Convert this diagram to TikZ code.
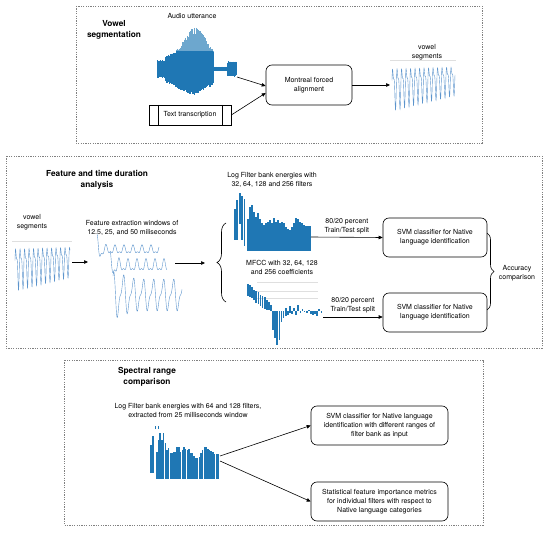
\documentclass[tikz,border=0pt]{standalone}
\usepackage{fontspec}
\setmainfont{TeX Gyre Heros}
\usetikzlibrary{arrows.meta,decorations.pathreplacing}
\definecolor{plotblue}{RGB}{31,119,180}
\definecolor{waveblue}{RGB}{92,148,204}
\newcommand{\vowelwave}[4]{%
  \draw[wave] plot[domain=0:#3,samples=400] ({#1+\x},{#2+(#4-0.12*\x)*(1-(sin(80*\x)+0.45*sin(160*\x+50))/1.35)});}

\begin{document}
\begin{tikzpicture}[x=1pt,y=-1pt,
    every node/.style={font=\fontsize{7}{9}\selectfont, align=center, inner sep=1pt},
    title/.style={font=\fontsize{8.3}{10.5}\selectfont\bfseries},
    section/.style={draw=gray, dash pattern=on 1.2pt off 1.2pt, line width=0.6pt},
    stage/.style={draw, rounded corners=6pt, line width=0.6pt, minimum height=39pt},
    textbox/.style={draw, line width=0.6pt, minimum width=82pt, minimum height=20pt,
      path picture={
        \draw ([xshift=9pt]path picture bounding box.north west) -- ([xshift=9pt]path picture bounding box.south west);
        \draw ([xshift=-9pt]path picture bounding box.north east) -- ([xshift=-9pt]path picture bounding box.south east);}},
    link/.style={-{Triangle[length=4pt,width=3.5pt]}, line width=0.6pt},
    wave/.style={waveblue, line width=0.4pt},
    rule/.style={gray!25, line width=0.4pt}]
  \useasboundingbox (0,0) rectangle (550,535);

  % vowel segmentation
  \draw[section] (76,6) rectangle (482,143);
  \node[title] (segtitle) at (114,30) {Vowel\\segmentation};
  \node (audiolabel) at (192,16) {Audio utterance};
  \foreach \x in {157,157.4,...,236}{
    \pgfmathsetmacro\u{((\x<165)*8+and(\x>=165,\x<213)*(12+26*exp(0-((\x-195)/15)^2))+and(\x>=213,\x<227)*2+(\x>=227)*7)*(0.9+0.2*rnd)}
    \pgfmathsetmacro\l{((\x<165)*8+and(\x>=165,\x<213)*(12+12*exp(0-((\x-192)/17)^2))+and(\x>=213,\x<227)*2+(\x>=227)*7)*(0.9+0.2*rnd)}
    \pgfmathsetmacro\m{min(\u,18)}
    \draw[plotblue, line width=0.5pt] (\x,69-\m) -- (\x,69+\l);
    \draw[plotblue!65, line width=0.5pt] (\x,69-\u) -- (\x,69-\m);
  }
  \coordinate (audio) at (237,77);
  \node[textbox] (transcript) at (190,115) {Text transcription};
  \node[stage, minimum width=86pt, minimum height=40pt] (mfa) at (309,85) {Montreal forced\\alignment};
  \node (seglabel) at (427,52) {vowel\\segments};
  \draw[rule] (390,60) -- (456,60);
  \vowelwave{392}{63}{63}{23.5}
  \coordinate (segwave) at (390,85);
  \draw[link] (audio) -- ([yshift=-1pt]mfa.west);
  \draw[link] (transcript.east) -- ([yshift=-8pt]mfa.west);
  \draw[link] (mfa.east) -- (segwave);

  % feature and time duration analysis
  \draw[section] (6,156) rectangle (542,348);
  \node[title] (feattitle) at (97,180) {Feature and time duration\\analysis};
  \node (seglabel2) at (32,222) {vowel\\segments};
  \draw[rule] (12,241) -- (72,241);
  \vowelwave{15}{243}{55}{23.5}
  \coordinate (segwave2) at (72,262);
  \coordinate (windows) at (88,262);
  \draw[link] (segwave2) -- (windows);
  \node (winlabel) at (132,228) {Feature extraction windows of\\12.5, 25, and 50 miliseconds};
  \draw[wave] plot[domain=0:62,samples=300] ({97+\x},{250-(3.5+7*exp(0-(\x/5)^2))*(sin(40*\x+90)+0.5*sin(80*\x+90))});
  \draw[wave] plot[domain=0:57,samples=300] ({110+\x},{266-(5+5*exp(0-(\x/6)^2))*(sin(40*\x+90)+0.5*sin(80*\x+90))});
  \draw[wave] plot[domain=0:69,samples=350] ({113+\x},{295-(13+6*exp(0-(\x/15)^2))*(sin(36*\x+90)+0.4*sin(72*\x))});
  \coordinate (winout) at (175,263);
  \coordinate (split) at (205,263);
  \draw[link] (winout) -- (split);
  \draw[line width=0.6pt, decorate, decoration={brace, amplitude=9pt}] (226,302) -- (226,223);

  \node (fblabel) at (272,180) {Log Filter bank energies with\\32, 64, 128 and 256 filters};
  \foreach \t/\b [count=\i from 0] in {209/240,200/240,193/224,196/240,199/246}
    \fill[plotblue] ({234+2.4*\i},\t) rectangle ({235.8+2.4*\i},\b);
  \foreach \t [count=\i from 0] in {219,207,205,212,217,213,219,223,225,223,222,220,223,218,222,220,
      223,222,223,227,229,230,227,223,218,219,222,223,225,226,226,226}
    \fill[plotblue] ({247+2*\i},\t) rectangle ({248.6+2*\i},251);
  \coordinate (fbank) at (311,237);

  \node (mfcclabel) at (282,267) {MFCC with 32, 64, 128\\and 256 coefficients};
  \foreach \y in {282,291,298} \draw[rule] (257,\y) -- (318,\y);
  \foreach \t/\b [count=\i from 0] in {284/296,285/297,287/298,290/300,291/303,292/304,295/306,296/308,
      297/309,300/310,302/310,305/311,311/330,311/338,311/345,311/340,311/322,311/318,308/316,311/315,
      306/313,311/314,308/311,311/315,305/311,311/313,309/311,311/312,311/313,310/311,311/314,311/315,
      311/314,311/316,309/311,311/313}
    \fill[plotblue] ({247+2.1*\i},\t) rectangle ({248.7+2.1*\i},\b);
  \coordinate (mfcc) at (323,317);

  \node[stage, minimum width=104pt] (svmfb) at (435,237.5) {SVM classifier for Native\\language identification};
  \node[stage, minimum width=104pt] (svmmfcc) at (435,312.5) {SVM classifier for Native\\language identification};
  \draw[link] (fbank) -- node[above=2pt] {80/20 percent\\Train/Test split} (svmfb.west);
  \draw[link] (mfcc) -- node[above=3pt] {80/20 percent\\Train/Test split} ([yshift=-4.5pt]svmmfcc.west);
  \draw[line width=0.6pt, decorate, decoration={brace, amplitude=7pt}] (487,233) -- (487,310);
  \node (accuracy) at (517,273) {Accuracy\\comparison};

  % spectral range comparison
  \draw[section] (64,360) rectangle (483,525);
  \node[title] (spectitle) at (147,377) {Spectral range\\comparison};
  \node (lfblabel) at (188,410) {Log Filter bank energies with 64 and 128 filters,\\extracted from 25 milliseconds window};
  \fill[plotblue] (150,445) rectangle (152,473);
  \fill[plotblue] (152.4,436) rectangle (154.4,473);
  \fill[plotblue] (155,426) rectangle (156.4,429);
  \fill[plotblue] (157.6,426) rectangle (159,429);
  \foreach \t [count=\i from 0] in {452,440,433,440,433,443,450,448,453,453,452,452,447,447,452,450,447,449,
      450,449,453,453,456,458,458,457,453,450,447,447,449,450,451,452,454,454,454}
    \fill[plotblue] ({156+1.7*\i},\t) rectangle ({157.5+1.7*\i},479);
  \coordinate (lfbtop) at (220,456);
  \coordinate (lfbbot) at (220,461);
  \node[stage, minimum width=137pt] (svmrange) at (379.5,425.5) {SVM classifier for Native language\\identification with different ranges of\\filter bank as input};
  \node[stage, minimum width=137pt] (importance) at (379.5,501.5) {Statistical feature importance metrics\\for individual filters with respect to\\Native language categories};
  \draw[link] (lfbtop) -- (svmrange.west);
  \draw[link] (lfbbot) -- (importance.west);
\end{tikzpicture}
\end{document}
